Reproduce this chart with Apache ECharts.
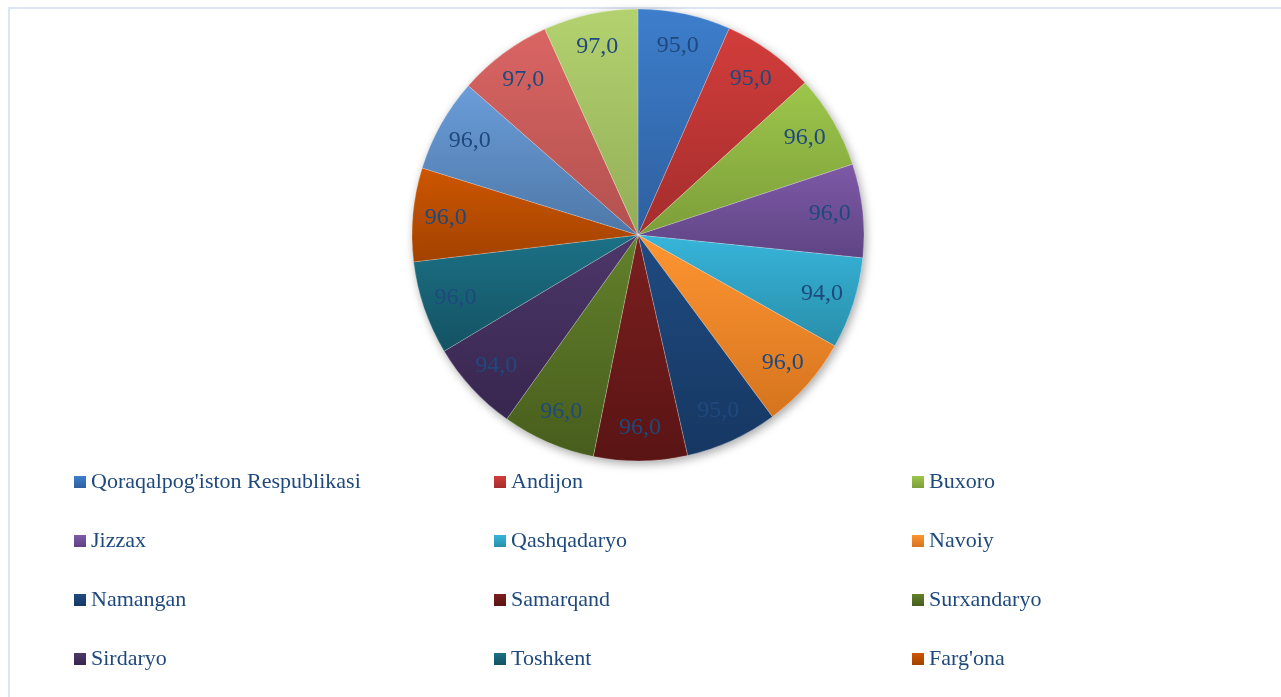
<!DOCTYPE html>
<html>
<head>
<meta charset="utf-8">
<script src="https://cdn.jsdelivr.net/npm/echarts@6/dist/echarts.min.js"></script>
<style>
  html, body { margin: 0; padding: 0; background: #fff; }
  #box1 { width: 1281px; height: 697px; }
</style>
</head>
<body>
<div id="box1"></div>
<script>
var chartDom = document.getElementById('box1');
var myChart = echarts.init(chartDom);

// regions (slice order, clockwise from 12 o'clock)
var regions = ["Qoraqalpog'iston Respublikasi", 'Andijon', 'Buxoro', 'Jizzax', 'Qashqadaryo', 'Navoiy',
    'Namangan', 'Samarqand', 'Surxandaryo', 'Sirdaryo', 'Toshkent', "Farg'ona",
    'Xorazm', 'Toshkent sh.', "O'zbekiston Respublikasi"];
var values = [95, 95, 96, 96, 94, 96, 95, 96, 96, 94, 96, 96, 96, 97, 97];

// legend columns as shown (only 12 items are visible)
var legendCol1 = ["Qoraqalpog'iston Respublikasi", 'Jizzax', 'Namangan', 'Sirdaryo'];
var legendCol2 = ['Andijon', 'Qashqadaryo', 'Samarqand', 'Toshkent'];
var legendCol3 = ['Buxoro', 'Navoiy', 'Surxandaryo', "Farg'ona"];

// top / bottom gradient colours per slice
var sliceColors = [
    ['#3D7ECC', '#2E5F9E'], ['#D23D3B', '#A42D2D'], ['#9DC64B', '#7C9E39'],
    ['#7E59A7', '#5E4484'], ['#37B5DA', '#298EAA'], ['#FF9532', '#D5741E'],
    ['#1F4B81', '#163762'], ['#7C1F1F', '#5A1414'], ['#62812B', '#485D1D'],
    ['#4D376A', '#37264E'], ['#1C7186', '#135262'], ['#CD5600', '#A24200'],
    ['#6B9DD9', '#4D77A7'], ['#DA6563', '#B2514F'], ['#B3D26F', '#93AD57']
];

var textColor = '#1F497D';
var font = 'Liberation Serif';
var center = [638, 235];
var R = 226;

function fmt(v) {
    return v.toFixed(1).replace('.', ',');
}

var pieData = values.map(function (v, i) {
    return {
        name: regions[i],
        value: v,
        itemStyle: {
            color: {
                type: 'linear', x: 0, y: 0, x2: 0, y2: 1,
                colorStops: [
                    { offset: 0, color: sliceColors[i][0] },
                    { offset: 1, color: sliceColors[i][1] }
                ]
            }
        }
    };
});

var labelData = values.map(function (v, i) {
    return { name: regions[i], value: v };
});

function legendCol(left, names) {
    return {
        orient: 'vertical',
        left: left,
        top: 471,
        padding: 0,
        itemGap: 37,
        itemWidth: 12,
        itemHeight: 12,
        itemStyle: { borderWidth: 0 },
        icon: 'rect',
        selectedMode: false,
        data: names,
        textStyle: { color: textColor, fontSize: 22, fontFamily: font }
    };
}

var option = {
    animation: false,
    backgroundColor: '#fff',
    graphic: [{
        type: 'rect',
        shape: { x: 9, y: 8, width: 1400, height: 800 },
        style: { fill: 'none', stroke: '#DCE6F2', lineWidth: 2 },
        silent: true
    }],
    legend: [
        legendCol(74, legendCol1),
        legendCol(494, legendCol2),
        legendCol(912, legendCol3)
    ],
    series: [
        {
            // soft shadow under the pie
            type: 'pie',
            silent: true,
            radius: [0, R],
            center: center,
            z: 1,
            label: { show: false },
            labelLine: { show: false },
            itemStyle: {
                color: '#ffffff',
                shadowBlur: 10,
                shadowOffsetX: 2,
                shadowOffsetY: 3,
                shadowColor: 'rgba(0,0,0,0.35)'
            },
            data: [{ name: '__shadow', value: 1 }]
        },
        {
            name: 'main',
            type: 'pie',
            radius: [0, R],
            center: center,
            startAngle: 90,
            clockwise: true,
            z: 2,
            label: { show: false },
            labelLine: { show: false },
            itemStyle: {
                borderColor: 'rgba(255,255,255,0.35)',
                borderWidth: 0.6
            },
            data: pieData
        },
        {
            // transparent ring only for placing labels near the rim
            name: 'labels',
            type: 'pie',
            silent: true,
            radius: [154, R],
            center: center,
            startAngle: 90,
            clockwise: true,
            z: 3,
            itemStyle: { color: 'rgba(0,0,0,0)' },
            label: {
                show: true,
                position: 'inside',
                color: textColor,
                fontSize: 24,
                fontFamily: font,
                formatter: function (p) { return fmt(p.value); }
            },
            labelLine: { show: false },
            data: labelData
        }
    ]
};

myChart.setOption(option);
</script>
</body>
</html>
